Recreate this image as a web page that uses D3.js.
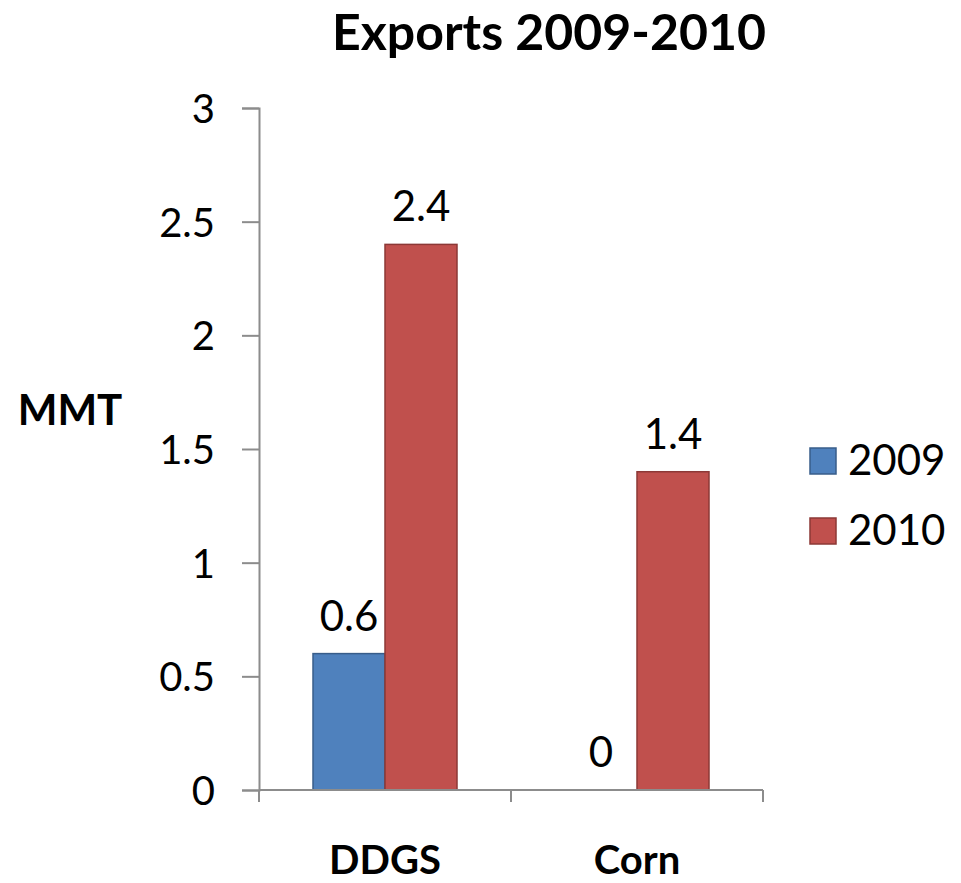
<!DOCTYPE html>
<html><head><meta charset="utf-8">
<script src="https://cdn.jsdelivr.net/npm/d3@7"></script>
<style>body{margin:0;background:#fff}svg{display:block}text{font-family:Lato,"Open Sans",sans-serif;fill:#000}</style>
</head><body>
<svg id="c" width="961" height="883"></svg>
<script>
const categories = ["DDGS", "Corn"];
const seriesNames = ["2009", "2010"];
const values2009 = [0.6, 0];
const values2010 = [2.4, 1.4];
const yTicks = [0, 0.5, 1, 1.5, 2, 2.5, 3];
const colors = ["#4F81BD", "#C0504D"];
const strokes = ["#385D8A", "#8C3836"];

(function () {
const svg = d3.select("#c");
const mLeft = 259, mRight = 763, mTop = 108, mBottom = 790;
const x = d3.scaleBand().domain(categories).range([mLeft, mRight]).paddingInner(0).paddingOuter(0);
const x1 = d3.scaleBand().domain(seriesNames).range([0, x.bandwidth()]).paddingInner(0).paddingOuter(0.75);
const y = d3.scaleLinear().domain([0, 3]).range([mBottom, mTop]);
const series = [values2009, values2010];

// y axis
const ya = svg.append("g").attr("transform", `translate(${mLeft},0)`)
  .call(d3.axisLeft(y).tickValues(yTicks).tickSize(17).tickPadding(27).tickFormat(d3.format("")));
ya.select(".domain").attr("stroke", "#8c8c8c").attr("stroke-width", 2);
ya.selectAll(".tick line").attr("stroke", "#8c8c8c").attr("stroke-width", 2);
ya.selectAll(".tick text").attr("font-size", 40).attr("font-family", "Lato,sans-serif").attr("fill", "#000").attr("dy", "0.36em");

// bars
categories.forEach((c, i) => {
  series.forEach((s, j) => {
    const v = s[i];
    const bx = x(c) + x1(seriesNames[j]);
    if (v > 0) {
      svg.append("rect").attr("x", bx).attr("y", y(v))
        .attr("width", x1.bandwidth()).attr("height", y(0) - y(v))
        .attr("fill", colors[j]).attr("stroke", strokes[j]).attr("stroke-width", 1.5);
    }
    svg.append("text").attr("x", bx + x1.bandwidth() / 2).attr("y", y(v) - 23)
      .attr("text-anchor", "middle").attr("font-size", 42).text(v);
  });
});

// x axis
const xa = svg.append("g").attr("transform", `translate(0,${mBottom})`);
xa.append("line").attr("x1", mLeft).attr("x2", mRight).attr("stroke", "#8c8c8c").attr("stroke-width", 2);
[mLeft, mLeft + x.bandwidth(), mRight].forEach(t => {
  xa.append("line").attr("x1", t).attr("x2", t).attr("y1", 0).attr("y2", 12).attr("stroke", "#8c8c8c").attr("stroke-width", 2);
});
categories.forEach(c => {
  svg.append("text").attr("x", x(c) + x.bandwidth() / 2).attr("y", 874)
    .attr("text-anchor", "middle").attr("font-size", 40).attr("font-weight", "bold").text(c);
});

// title
svg.append("text").attr("x", 549).attr("y", 50).attr("text-anchor", "middle")
  .attr("font-size", 50).attr("font-weight", "bold").text("Exports 2009-2010");
// y label
svg.append("text").attr("x", 70).attr("y", 425).attr("text-anchor", "middle")
  .attr("font-size", 42).attr("font-weight", "bold").text("MMT");

// legend
seriesNames.forEach((n, j) => {
  const ly = 460 + j * 70;
  svg.append("rect").attr("x", 810).attr("y", ly - 12).attr("width", 26).attr("height", 26)
    .attr("fill", colors[j]).attr("stroke", strokes[j]).attr("stroke-width", 1.5);
  svg.append("text").attr("x", 848).attr("y", ly + 15).attr("font-size", 42).text(n);
});
})();
</script>
</body></html>
